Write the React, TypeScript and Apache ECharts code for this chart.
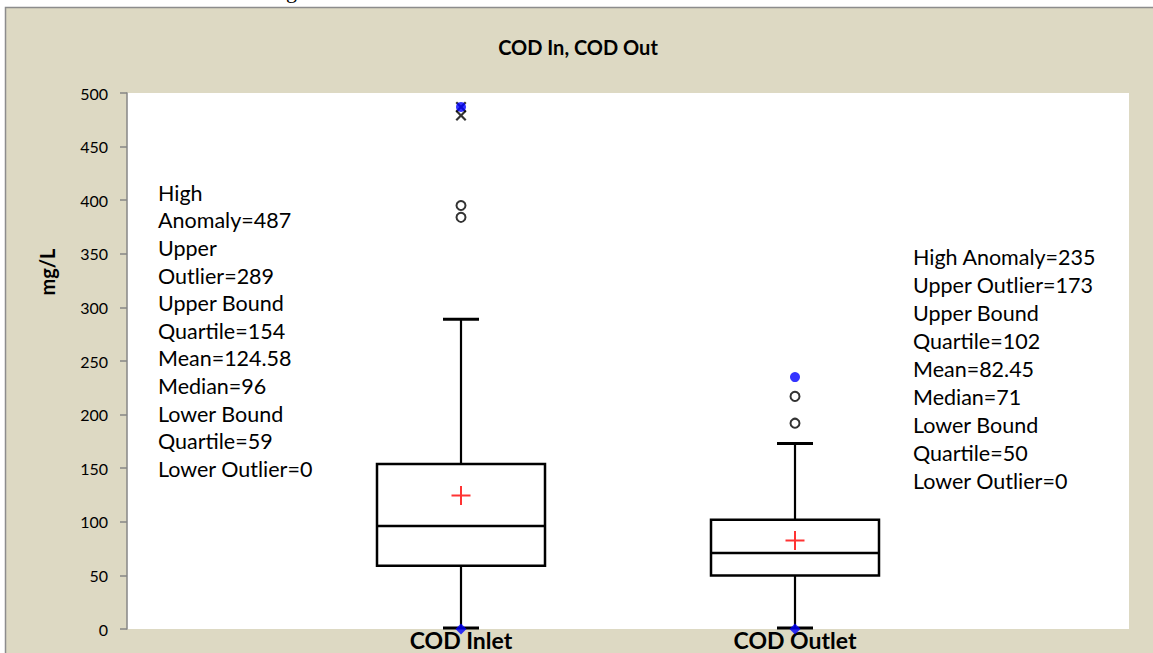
import React, { useEffect, useRef } from "react";
import * as echarts from "echarts";

// ---- data ----
const categories = ["", "COD Inlet", "COD Outlet", ""];
const seriesNames = ["COD Inlet", "COD Outlet"];
const lowerOutlier = [0, 0];
const lowerQuartile = [59, 50];
const medians = [96, 71];
const upperQuartile = [154, 102];
const upperOutlier = [289, 173];
const means = [124.58, 82.45];
const highAnomaly = [487, 235];
const inletOutliers = [384, 395];
const outletOutliers = [192, 217];
const inletExtremes = [487, 479];
const yMin = 0;
const yMax = 500;
const yStep = 50;
const title = "COD In, COD Out";
const yTitle = "mg/L";

const FONT = "Lato, 'Open Sans', sans-serif";

export default function App() {
  const ref = useRef<HTMLDivElement>(null);
  useEffect(() => {
    if (!ref.current) return;
    const chart = echarts.init(ref.current, undefined, { renderer: "svg" });

    const boxData = seriesNames.map((_, i) => [
      i + 1,
      lowerOutlier[i],
      lowerQuartile[i],
      medians[i],
      upperQuartile[i],
      upperOutlier[i],
    ]);
    const meanData = means.map((m, i) => [i + 1, m]);
    const outlierData = [
      ...inletOutliers.map((v) => [1, v]),
      ...outletOutliers.map((v) => [2, v]),
    ];
    const anomalyData = highAnomaly.map((v, i) => [i + 1, v]);
    const lowData = lowerOutlier.map((v, i) => [i + 1, v]);
    const extremeData = inletExtremes.map((v) => [1, v]);

    const leftLines = [
      "High",
      `Anomaly=${highAnomaly[0]}`,
      "Upper",
      `Outlier=${upperOutlier[0]}`,
      "Upper Bound",
      `Quartile=${upperQuartile[0]}`,
      `Mean=${means[0]}`,
      `Median=${medians[0]}`,
      "Lower Bound",
      `Quartile=${lowerQuartile[0]}`,
      `Lower Outlier=${lowerOutlier[0]}`,
    ];
    const rightLines = [
      `High Anomaly=${highAnomaly[1]}`,
      `Upper Outlier=${upperOutlier[1]}`,
      "Upper Bound",
      `Quartile=${upperQuartile[1]}`,
      `Mean=${means[1]}`,
      `Median=${medians[1]}`,
      "Lower Bound",
      `Quartile=${lowerQuartile[1]}`,
      `Lower Outlier=${lowerOutlier[1]}`,
    ];

    const BOX_HALF = 84;
    const CAP_HALF = 18;

    chart.setOption({
      animation: false,
      backgroundColor: "#ffffff",
      textStyle: { fontFamily: FONT },
      graphic: [
        {
          type: "rect",
          z: -10,
          shape: { x: 5.5, y: 7.5, width: 1160, height: 660 },
          style: { fill: "#DDD9C3", stroke: "#8C8C8C", lineWidth: 1.5 },
        },
        {
          type: "text",
          z: -5,
          x: 286,
          y: 1,
          style: {
            text: "g",
            font: "22px 'Liberation Serif', serif",
            fill: "#000",
            verticalAlign: "bottom",
          },
        },
        {
          type: "text",
          z: 100,
          x: 578,
          y: 47,
          style: {
            text: title,
            font: `bold 20px ${FONT}`,
            fill: "#000",
            align: "center",
            verticalAlign: "middle",
          },
        },
        {
          type: "text",
          z: 100,
          x: 47,
          y: 272,
          rotation: Math.PI / 2,
          style: {
            text: yTitle,
            font: `bold 20px ${FONT}`,
            fill: "#000",
            align: "center",
            verticalAlign: "middle",
          },
        },
        {
          type: "text",
          z: 100,
          x: 158,
          y: 179,
          style: {
            text: leftLines.join("\n"),
            font: `21.5px ${FONT}`,
            lineHeight: 27.6,
            fill: "#000",
            align: "left",
            verticalAlign: "top",
          },
        },
        {
          type: "text",
          z: 100,
          x: 913,
          y: 243,
          style: {
            text: rightLines.join("\n"),
            font: `21.5px ${FONT}`,
            lineHeight: 28,
            fill: "#000",
            align: "left",
            verticalAlign: "top",
          },
        },
      ],
      grid: {
        left: 127,
        top: 93,
        right: 24,
        bottom: 24,
        show: true,
        backgroundColor: "#ffffff",
        borderWidth: 0,
        z: 0,
      },
      xAxis: {
        type: "category",
        data: categories,
        boundaryGap: false,
        axisLine: { show: false },
        axisTick: { show: false },
        splitLine: { show: false },
        axisLabel: {
          interval: 0,
          color: "#000",
          fontWeight: "bold",
          fontSize: 23,
          fontFamily: FONT,
          margin: -1,
        },
      },
      yAxis: {
        type: "value",
        min: yMin,
        max: yMax,
        interval: yStep,
        axisLine: { show: true, lineStyle: { color: "#868686", width: 1.5 } },
        axisTick: {
          show: true,
          length: 7,
          lineStyle: { color: "#868686", width: 1.5 },
        },
        splitLine: { show: false },
        axisLabel: {
          color: "#000",
          fontSize: 16,
          fontFamily: FONT,
          margin: 19,
        },
      },
      series: [
        {
          type: "custom",
          name: "box",
          data: boxData,
          z: 3,
          encode: { x: 0, y: [1, 2, 3, 4, 5] },
          renderItem: (params: any, api: any) => {
            const x = api.value(0);
            const lo = api.coord([x, api.value(1)]);
            const q1 = api.coord([x, api.value(2)]);
            const med = api.coord([x, api.value(3)]);
            const q3 = api.coord([x, api.value(4)]);
            const hi = api.coord([x, api.value(5)]);
            const cx = Math.round(lo[0]);
            const line = { stroke: "#000", lineWidth: 2.2 };
            const cap = { stroke: "#000", lineWidth: 3 };
            return {
              type: "group",
              children: [
                {
                  type: "line",
                  shape: { x1: cx, y1: q3[1], x2: cx, y2: hi[1] },
                  style: line,
                },
                {
                  type: "line",
                  shape: { x1: cx, y1: q1[1], x2: cx, y2: lo[1] },
                  style: line,
                },
                {
                  type: "line",
                  shape: { x1: cx - CAP_HALF, y1: hi[1], x2: cx + CAP_HALF, y2: hi[1] },
                  style: cap,
                },
                {
                  type: "line",
                  shape: { x1: cx - CAP_HALF, y1: lo[1] - 1, x2: cx + CAP_HALF, y2: lo[1] - 1 },
                  style: cap,
                },
                {
                  type: "rect",
                  shape: {
                    x: cx - BOX_HALF,
                    y: q3[1],
                    width: BOX_HALF * 2,
                    height: q1[1] - q3[1],
                  },
                  style: { fill: "#fff", stroke: "#000", lineWidth: 2.5 },
                },
                {
                  type: "line",
                  shape: { x1: cx - BOX_HALF, y1: med[1], x2: cx + BOX_HALF, y2: med[1] },
                  style: { stroke: "#000", lineWidth: 2.5 },
                },
              ],
            };
          },
        },
        {
          type: "scatter",
          name: "mean",
          data: meanData,
          z: 5,
          clip: false,
          symbol: "path://M8.5,0H10.5V8.5H19V10.5H10.5V19H8.5V10.5H0V8.5H8.5Z",
          symbolSize: 19,
          itemStyle: { color: "#FF0000" },
        },
        {
          type: "scatter",
          name: "outliers",
          data: outlierData,
          z: 5,
          clip: false,
          symbol: "circle",
          symbolSize: 9,
          itemStyle: { color: "#fff", borderColor: "#000", borderWidth: 2 },
        },
        {
          type: "scatter",
          name: "extremes",
          data: extremeData,
          z: 5,
          clip: false,
          symbol:
            "path://M0,1.4L1.4,0L5,3.6L8.6,0L10,1.4L6.4,5L10,8.6L8.6,10L5,6.4L1.4,10L0,8.6L3.6,5Z",
          symbolSize: 11,
          itemStyle: { color: "#000" },
        },
        {
          type: "scatter",
          name: "anomaly",
          data: anomalyData,
          z: 6,
          clip: false,
          symbol: "circle",
          symbolSize: 10,
          itemStyle: { color: "#0000FF" },
        },
        {
          type: "scatter",
          name: "low",
          data: lowData,
          z: 6,
          clip: false,
          symbol: "diamond",
          symbolSize: 11,
          itemStyle: { color: "#0000FF" },
        },
      ],
    });
    return () => chart.dispose();
  }, []);

  return (
    <div
      ref={ref}
      style={{ position: "absolute", left: 0, top: 0, width: 1153, height: 653 }}
    />
  );
}
